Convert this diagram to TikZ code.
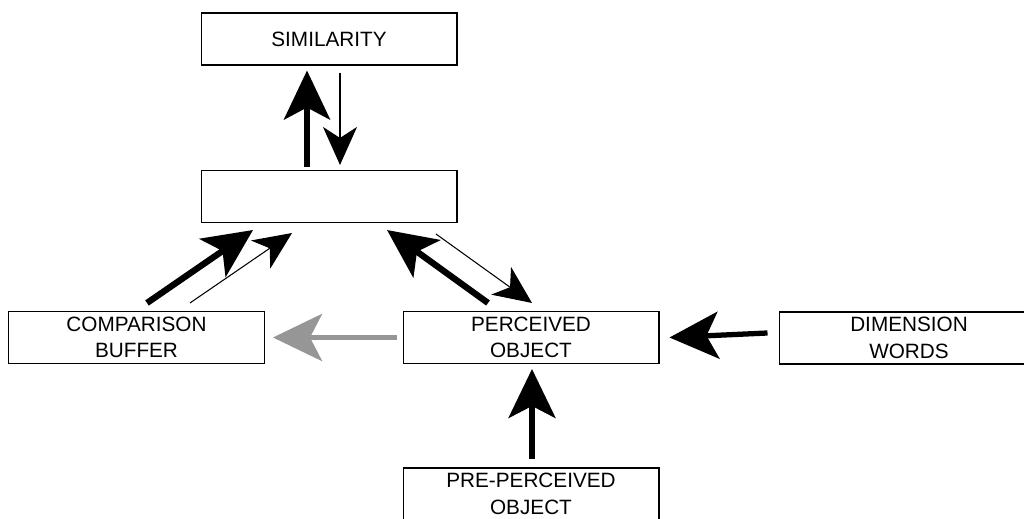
\documentclass[tikz,border=0pt]{standalone}
\usepackage{fontspec}
\setmainfont{Liberation Sans}
\usetikzlibrary{arrows.meta}
\definecolor{arrowgray}{RGB}{150,150,150}

\begin{document}
\begin{tikzpicture}[
  x=0.02cm, y=-0.02cm,
  every node/.style={font=\fontsize{11.8}{15.2}\selectfont},
  box/.style={draw, line width=0.6pt, minimum width=5.12cm, minimum height=1.04cm,
    align=center, inner sep=0pt},
  bold/.style={line width=3.6pt, -{Stealth[length=0.98cm, width=0.92cm, inset=0.24cm]}},
  medium/.style={line width=3pt, -{Stealth[length=0.98cm, width=0.94cm, inset=0.24cm]}},
  fine/.style={line width=0.6pt, -{Stealth[length=0.76cm, width=0.68cm, inset=0.22cm]}}
]
\useasboundingbox (0,0) rectangle (1024,519);
\clip (0,0) rectangle (1024,519);

\node[box] (sim) at (329,39) {SIMILARITY};
\node[box] (mid) at (329,196.5) {};
\node[box] (buf) at (136.5,337.5) {COMPARISON\\BUFFER};
\node[box] (per) at (531,337.5) {PERCEIVED\\OBJECT};
\node[box, minimum width=5.6cm] (dim) at (919,338) {\hspace*{-0.4cm}DIMENSION\\\hspace*{-0.4cm}WORDS};
\node[box] (pre) at (531,494) {PRE-PERCEIVED\\OBJECT};

\draw[bold] ([shift={(-22,-3)}]mid.north) -- ([shift={(-22,5)}]sim.south);
\draw[fine] ([shift={(11,7)}]sim.south) -- ([shift={(11,-5)}]mid.north);

\draw[bold] ([shift={(10.5,-8)}]buf.north) -- ([shift={(-76,7)}]mid.south);
\draw[fine] ([shift={(53.5,-8)}]buf.north) -- ([shift={(-37,10)}]mid.south);

\draw[bold] ([shift={(-43,-8)}]per.north) -- ([shift={(58,7)}]mid.south);
\draw[fine] ([shift={(107,11)}]mid.south) -- ([shift={(1,-8)}]per.north);

\draw[medium, arrowgray] ([shift={(-6,0)}]per.west) -- ([shift={(8,0)}]buf.east);
\draw[medium] ([shift={(-11,-5)}]dim.west) -- ([shift={(10,0)}]per.east);
\draw[medium] ([shift={(1,-8)}]pre.north) -- ([shift={(1,5)}]per.south);
\end{tikzpicture}
\end{document}
